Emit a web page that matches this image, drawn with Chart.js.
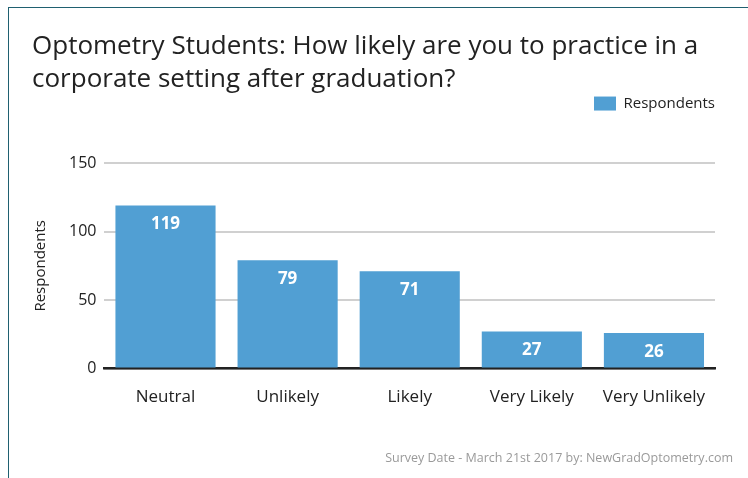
<!DOCTYPE html>
<html>
<head>
<meta charset="utf-8">
<script src="https://cdn.jsdelivr.net/npm/chart.js@4"></script>
<style>
  html, body { margin: 0; padding: 0; background: #fff; }
  #wrap { position: relative; width: 748px; height: 478px; overflow: hidden; }
  #frame { position: absolute; left: 8px; top: 7px; width: 760px; height: 500px;
    border-left: 1.5px solid #1f6070; border-top: 1.5px solid #1f6070; }
  #chart { position: absolute; left: 0; top: 0; }
  #footer { position: absolute; right: 15px; top: 449px; font: 12.5px "Open Sans", sans-serif;
    color: #9a9a9a; }
</style>
</head>
<body>
<div id="wrap">
  <div id="frame"></div>
  <canvas id="chart" width="748" height="478"></canvas>
  <div id="footer">Survey Date - March 21st 2017 by: NewGradOptometry.com</div>
</div>
<script>
const categories = ['Neutral', 'Unlikely', 'Likely', 'Very Likely', 'Very Unlikely']
const respondents = [119, 79, 71, 27, 26]
const yTicks = [0, 50, 100, 150]

const font = 'Open Sans'

// white value labels just inside the top of each bar
const barLabels = {
  id: 'barLabels',
  afterDatasetsDraw (chart) {
    const ctx = chart.ctx
    const meta = chart.getDatasetMeta(0)
    ctx.save()
    ctx.fillStyle = '#fff'
    ctx.font = 'bold 17px "' + font + '"'
    ctx.textAlign = 'center'
    ctx.textBaseline = 'middle'
    meta.data.forEach((bar, i) => {
      ctx.fillText(respondents[i], bar.x, bar.y + 19)
    })
    ctx.restore()
  }
}

// push the plot down below the legend, nudge legend to the right
const legendGap = {
  id: 'legendGap',
  beforeInit (chart) {
    const fit = chart.legend.fit
    chart.legend.fit = function () {
      fit.bind(chart.legend)()
      this.height += 42
      if (this.lineWidths) this.lineWidths[0] -= 8
    }
  }
}

new Chart(document.getElementById('chart'), {
  type: 'bar',
  data: {
    labels: categories,
    datasets: [{
      label: 'Respondents',
      data: respondents,
      backgroundColor: '#519fd3',
      barPercentage: 0.82,
      categoryPercentage: 1
    }]
  },
  options: {
    responsive: false,
    animation: false,
    layout: { padding: { left: 32, right: 33, top: 30, bottom: 61 } },
    plugins: {
      title: {
        display: true,
        align: 'start',
        text: ['Optometry Students: How likely are you to practice in a', 'corporate setting after graduation?'],
        color: '#222',
        font: { family: font, size: 26, weight: 'normal', lineHeight: 1.27 },
        padding: { top: 0, bottom: -8 }
      },
      legend: {
        align: 'end',
        labels: {
          boxWidth: 22,
          boxHeight: 14,
          color: '#222',
          font: { family: font, size: 15 },
          padding: 8
        }
      },
      tooltip: { enabled: false }
    },
    scales: {
      x: {
        grid: { display: false },
        border: { color: '#222', width: 2.5 },
        ticks: { color: '#222', font: { family: font, size: 17 }, padding: 10 }
      },
      y: {
        min: 0,
        max: 150,
        afterBuildTicks (axis) { axis.ticks = yTicks.map(v => ({ value: v })) },
        grid: { color: '#d0d0d0', lineWidth: 2, drawTicks: false },
        border: { display: false },
        ticks: { color: '#222', font: { family: font, size: 16 }, padding: 8 },
        title: {
          display: true,
          text: 'Respondents',
          color: '#222',
          font: { family: font, size: 15 },
          padding: { top: 0, bottom: 11 }
        }
      }
    }
  },
  plugins: [barLabels, legendGap]
})
</script>
</body>
</html>
